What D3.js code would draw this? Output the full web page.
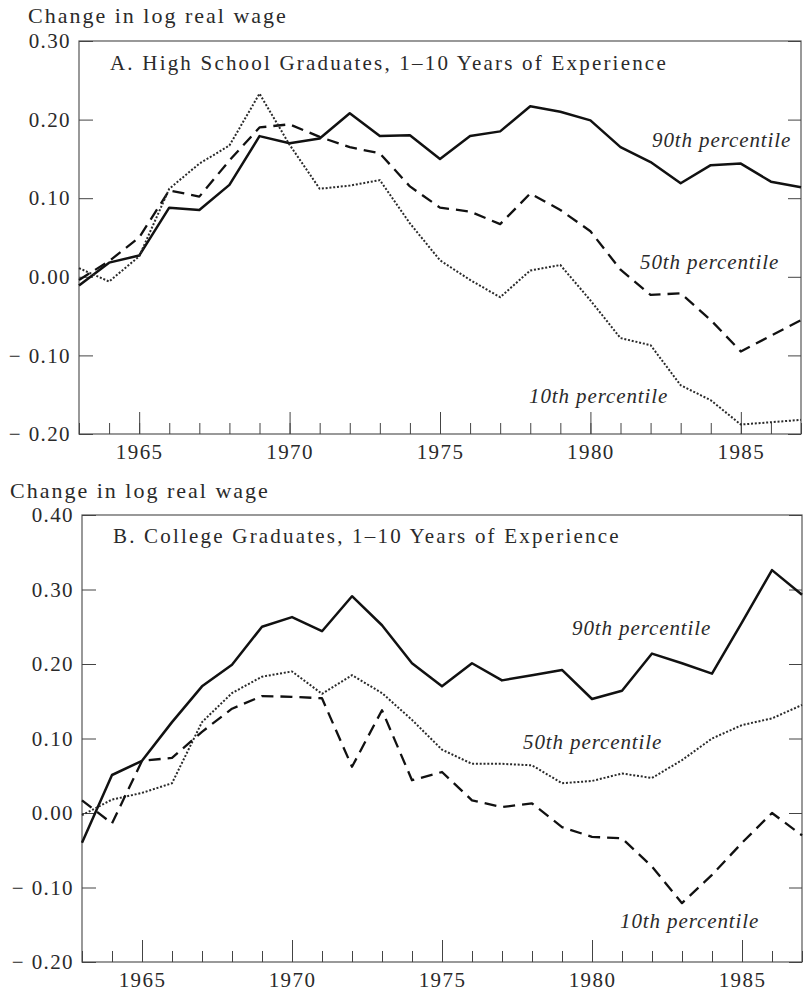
<!DOCTYPE html>
<html>
<head>
<meta charset="utf-8">
<script src="https://cdn.jsdelivr.net/npm/d3@7"></script>
<style>
  body { margin: 0; background: #fff; }
  svg text { font-family: "Liberation Serif", "Times New Roman", serif; fill: #2a2a2a; }
</style>
</head>
<body>
<div class="container"></div>
<script>
const years = d3.range(1963, 1988);

// Panel A: high school graduates
const hs90 = [-0.011, 0.018, 0.027, 0.088, 0.085, 0.117, 0.179, 0.170, 0.176, 0.208, 0.179, 0.180, 0.150, 0.179, 0.185, 0.217, 0.210, 0.199, 0.165, 0.146, 0.119, 0.142, 0.144, 0.121, 0.114];
const hs50 = [-0.004, 0.020, 0.050, 0.110, 0.102, 0.148, 0.190, 0.194, 0.178, 0.165, 0.157, 0.115, 0.088, 0.083, 0.067, 0.106, 0.085, 0.058, 0.009, -0.023, -0.021, -0.055, -0.095, -0.075, -0.055];
const hs10 = [0.011, -0.006, 0.026, 0.112, 0.144, 0.167, 0.233, 0.168, 0.112, 0.116, 0.123, 0.068, 0.021, -0.004, -0.026, 0.008, 0.015, -0.030, -0.078, -0.087, -0.138, -0.157, -0.188, -0.185, -0.182];

// Panel B: college graduates
const col90 = [-0.040, 0.051, 0.070, 0.122, 0.170, 0.199, 0.250, 0.263, 0.244, 0.291, 0.252, 0.201, 0.170, 0.201, 0.178, 0.185, 0.192, 0.153, 0.164, 0.214, 0.201, 0.187, 0.256, 0.326, 0.293];
const col50 = [-0.003, 0.018, 0.027, 0.040, 0.122, 0.161, 0.183, 0.190, 0.160, 0.185, 0.161, 0.125, 0.085, 0.066, 0.066, 0.064, 0.040, 0.043, 0.053, 0.047, 0.071, 0.100, 0.118, 0.127, 0.145];
const col10 = [0.017, -0.014, 0.070, 0.074, 0.109, 0.140, 0.157, 0.156, 0.154, 0.062, 0.138, 0.044, 0.055, 0.017, 0.008, 0.013, -0.019, -0.032, -0.034, -0.072, -0.121, -0.083, -0.040, 0.000, -0.030];

const yTicksA = [0.30, 0.20, 0.10, 0.00, -0.10, -0.20];
const yTicksB = [0.40, 0.30, 0.20, 0.10, 0.00, -0.10, -0.20];
const majorYears = [1965, 1970, 1975, 1980, 1985];

const styles = {
  solid:  { width: 2.5, dash: null,   color: "#111" },
  dashed: { width: 2.3, dash: "12,7", color: "#111" },
  dotted: { width: 2, dash: "2,1.8", color: "#2a2a2a" }
};

const panels = [
  {
    title: "A. High School Graduates, 1–10 Years of Experience",
    ylabel: { x: 28, y: 23 },
    left: 79, right: 801, top: 41, bottom: 434,
    domain: [-0.20, 0.30], ticks: yTicksA,
    titlePos: { x: 110, y: 70 },
    series: [
      { values: hs90, style: "solid",  label: "90th percentile", lx: 652, ly: 147 },
      { values: hs50, style: "dashed", label: "50th percentile", lx: 640, ly: 269 },
      { values: hs10, style: "dotted", label: "10th percentile", lx: 529, ly: 403 }
    ]
  },
  {
    title: "B. College Graduates, 1–10 Years of Experience",
    ylabel: { x: 10, y: 498 },
    left: 82, right: 802, top: 515, bottom: 962,
    domain: [-0.20, 0.40], ticks: yTicksB,
    titlePos: { x: 113, y: 543 },
    series: [
      { values: col90, style: "solid",  label: "90th percentile", lx: 572, ly: 635 },
      { values: col50, style: "dotted", label: "50th percentile", lx: 523, ly: 749 },
      { values: col10, style: "dashed", label: "10th percentile", lx: 620, ly: 928 }
    ]
  }
];

const svg = d3.select(".container").append("svg").attr("width", 804).attr("height", 997);

panels.forEach(p => {
  const x = d3.scaleLinear().domain([1963, 1987]).range([p.left, p.right]);
  const y = d3.scaleLinear().domain(p.domain).range([p.bottom, p.top]);
  const g = svg.append("g");

  g.append("text").text("Change in log real wage")
    .attr("x", p.ylabel.x).attr("y", p.ylabel.y)
    .style("font-size", "22px").style("letter-spacing", "2px");

  // frame
  g.append("rect")
    .attr("x", p.left).attr("y", p.top)
    .attr("width", p.right - p.left).attr("height", p.bottom - p.top)
    .attr("fill", "none").attr("stroke", "#555").attr("stroke-width", 1.2);

  const yAxis = d3.axisLeft(y).tickValues(p.ticks).tickSizeInner(-14).tickSizeOuter(0).tickPadding(8)
    .tickFormat(d => d < 0 ? "\u2212 " + d3.format(".2f")(-d) : d3.format(".2f")(d));
  g.append("g").attr("transform", `translate(${p.left},0)`).call(yAxis)
    .call(a => a.select(".domain").remove())
    .call(a => a.selectAll("text").style("font-size", "21px").style("letter-spacing", "1.4px").attr("fill", "#2a2a2a"))
    .call(a => a.selectAll("line").attr("stroke", "#444"));

  const yRight = d3.axisRight(y).tickValues(p.ticks).tickSizeInner(-13).tickSizeOuter(0).tickFormat("");
  g.append("g").attr("transform", `translate(${p.right},0)`).call(yRight)
    .call(a => a.select(".domain").remove())
    .call(a => a.selectAll("line").attr("stroke", "#444"));

  const xMinor = d3.axisBottom(x).tickValues(years).tickSizeInner(-11).tickSizeOuter(0).tickFormat("");
  g.append("g").attr("transform", `translate(0,${p.bottom})`).call(xMinor)
    .call(a => a.select(".domain").remove())
    .call(a => a.selectAll("line").attr("stroke", "#444"));

  const xMajor = d3.axisBottom(x).tickValues(majorYears).tickSizeInner(-22).tickSizeOuter(0).tickPadding(10).tickFormat(d3.format("d"));
  g.append("g").attr("transform", `translate(0,${p.bottom})`).call(xMajor)
    .call(a => a.select(".domain").remove())
    .call(a => a.selectAll("text").style("font-size", "21px").style("letter-spacing", "1.4px").attr("fill", "#2a2a2a"))
    .call(a => a.selectAll("line").attr("stroke", "#444"));

  g.append("text").text(p.title)
    .attr("x", p.titlePos.x).attr("y", p.titlePos.y)
    .style("font-size", "21px").style("letter-spacing", "2.2px");

  const line = d3.line().x((d, i) => x(years[i])).y(d => y(d));
  p.series.forEach(s => {
    const st = styles[s.style];
    g.append("path").datum(s.values)
      .attr("d", line)
      .attr("fill", "none")
      .attr("stroke", st.color)
      .attr("stroke-width", st.width)
      .attr("stroke-dasharray", st.dash)
      .attr("stroke-linejoin", "round");
    g.append("text").text(s.label)
      .attr("x", s.lx).attr("y", s.ly)
      .style("font-size", "21px").style("font-style", "italic").style("letter-spacing", "0.9px");
  });
});
</script>
</body>
</html>
